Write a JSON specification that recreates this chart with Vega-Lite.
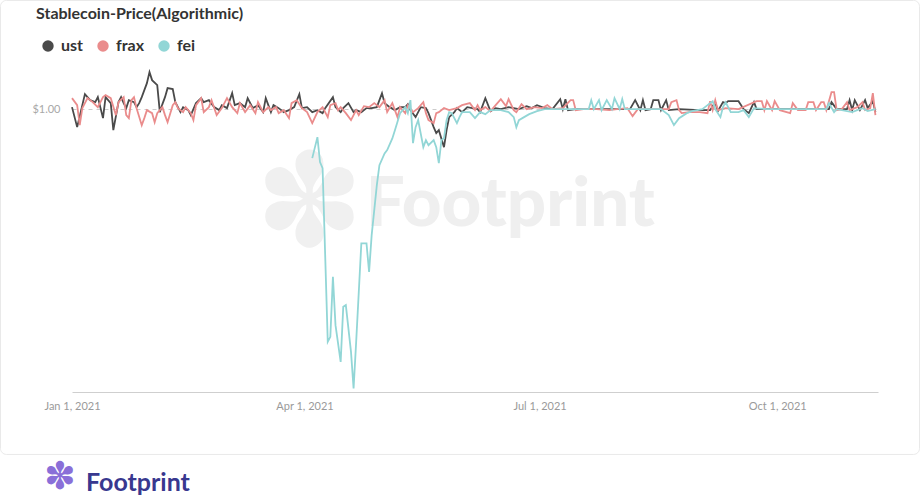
{
  "$schema": "https://vega.github.io/schema/vega-lite/v6.json",
  "width": 806,
  "height": 340,
  "autosize": {"type": "none"},
  "padding": {"left": 72, "top": 52, "right": 43, "bottom": 104},
  "background": "white",
  "config": {"font": "Lato", "view": {"stroke": null}},
  "title": {"text": "Stablecoin-Price(Algorithmic)", "anchor": "start", "frame": "group", "dx": -36, "offset": -22, "fontSize": 16, "fontWeight": "bold", "color": "#333333", "font": "Lato"},
  "layer": [
    {
      "data": {"values": [{"x1": "2020-12-04T07:40:00Z", "x2": "2021-11-25T01:40:00Z", "y1": 1.0761, "y2": 0.7583}]},
      "mark": {"type": "rect", "fill": null, "stroke": "#e9e9e9", "strokeWidth": 1, "cornerRadius": 6},
      "encoding": {
        "x": {"field": "x1", "type": "temporal"},
        "x2": {"field": "x2"},
        "y": {"field": "y1", "type": "quantitative"},
        "y2": {"field": "y2"}
      }
    },
    {
      "data": {"values": [{"date": "2021-04-24T18:00:00Z", "price": 0.9329, "label": "Footprint"}]},
      "mark": {"type": "text", "align": "left", "baseline": "middle", "fontSize": 69, "fontWeight": 900, "font": "Lato", "color": "#efefef"},
      "encoding": {
        "x": {"field": "date", "type": "temporal"},
        "y": {"field": "price", "type": "quantitative"},
        "text": {"field": "label"}
      }
    },
    {
      "data": {"values": [{"date": "2021-04-03T03:00:00Z", "price": 0.9315, "label": "✽"}]},
      "mark": {"type": "text", "align": "center", "baseline": "middle", "fontSize": 130, "color": "#f0f0f0"},
      "encoding": {
        "x": {"field": "date", "type": "temporal"},
        "y": {"field": "price", "type": "quantitative"},
        "text": {"field": "label"}
      }
    },
    {
      "data": {"values": [
{"date":"2021-01-01","coin":"ust","price":1.0014},{"date":"2021-01-03","coin":"ust","price":0.9874},{"date":"2021-01-05","coin":"ust","price":1.0028},{"date":"2021-01-06","coin":"ust","price":1.0105},{"date":"2021-01-08","coin":"ust","price":1.0063},{"date":"2021-01-10","coin":"ust","price":1.0049},{"date":"2021-01-11","coin":"ust","price":1.0084},{"date":"2021-01-13","coin":"ust","price":0.9937},{"date":"2021-01-14","coin":"ust","price":1.0084},{"date":"2021-01-16","coin":"ust","price":1.0042},{"date":"2021-01-17","coin":"ust","price":0.9853},{"date":"2021-01-19","coin":"ust","price":1.0049},{"date":"2021-01-20","coin":"ust","price":1.0084},{"date":"2021-01-21","coin":"ust","price":1.0042},{"date":"2021-01-22","coin":"ust","price":1.0007},{"date":"2021-01-23","coin":"ust","price":1.0063},{"date":"2021-01-25","coin":"ust","price":1.0049},{"date":"2021-01-26","coin":"ust","price":1.0014},{"date":"2021-01-27","coin":"ust","price":1.0042},{"date":"2021-01-28","coin":"ust","price":1.0084},{"date":"2021-01-30","coin":"ust","price":1.0182},{"date":"2021-01-31","coin":"ust","price":1.0259},{"date":"2021-02-01","coin":"ust","price":1.0203},{"date":"2021-02-03","coin":"ust","price":1.0168},{"date":"2021-02-04","coin":"ust","price":0.9979},{"date":"2021-02-05","coin":"ust","price":1.0035},{"date":"2021-02-06","coin":"ust","price":1.0084},{"date":"2021-02-07","coin":"ust","price":1.0147},{"date":"2021-02-09","coin":"ust","price":1.0140},{"date":"2021-02-10","coin":"ust","price":1.0049},{"date":"2021-02-12","coin":"ust","price":0.9979},{"date":"2021-02-13","coin":"ust","price":1.0014},{"date":"2021-02-15","coin":"ust","price":0.9993},{"date":"2021-02-16","coin":"ust","price":0.9958},{"date":"2021-02-18","coin":"ust","price":1.0042},{"date":"2021-02-20","coin":"ust","price":1.0077},{"date":"2021-02-21","coin":"ust","price":1.0049},{"date":"2021-02-23","coin":"ust","price":1.0063},{"date":"2021-02-25","coin":"ust","price":1.0014},{"date":"2021-02-27","coin":"ust","price":0.9993},{"date":"2021-02-28","coin":"ust","price":1.0028},{"date":"2021-03-02","coin":"ust","price":1.0007},{"date":"2021-03-04","coin":"ust","price":1.0112},{"date":"2021-03-05","coin":"ust","price":1.0028},{"date":"2021-03-07","coin":"ust","price":1.0042},{"date":"2021-03-09","coin":"ust","price":1.0014},{"date":"2021-03-10","coin":"ust","price":1.0077},{"date":"2021-03-12","coin":"ust","price":1.0007},{"date":"2021-03-14","coin":"ust","price":1.0028},{"date":"2021-03-16","coin":"ust","price":0.9979},{"date":"2021-03-17","coin":"ust","price":1.0077},{"date":"2021-03-19","coin":"ust","price":0.9979},{"date":"2021-03-20","coin":"ust","price":1.0028},{"date":"2021-03-22","coin":"ust","price":1.0007},{"date":"2021-03-24","coin":"ust","price":0.9979},{"date":"2021-03-26","coin":"ust","price":0.9993},{"date":"2021-03-28","coin":"ust","price":1.0014},{"date":"2021-03-30","coin":"ust","price":1.0105},{"date":"2021-03-31","coin":"ust","price":1.0007},{"date":"2021-04-02","coin":"ust","price":1.0014},{"date":"2021-04-04","coin":"ust","price":0.9979},{"date":"2021-04-06","coin":"ust","price":0.9993},{"date":"2021-04-08","coin":"ust","price":0.9972},{"date":"2021-04-09","coin":"ust","price":1.0007},{"date":"2021-04-12","coin":"ust","price":1.0084},{"date":"2021-04-13","coin":"ust","price":1.0014},{"date":"2021-04-15","coin":"ust","price":0.9979},{"date":"2021-04-16","coin":"ust","price":1.0007},{"date":"2021-04-18","coin":"ust","price":1.0042},{"date":"2021-04-20","coin":"ust","price":0.9979},{"date":"2021-04-21","coin":"ust","price":0.9993},{"date":"2021-04-23","coin":"ust","price":0.9979},{"date":"2021-04-25","coin":"ust","price":1.0007},{"date":"2021-04-27","coin":"ust","price":1.0007},{"date":"2021-04-29","coin":"ust","price":1.0014},{"date":"2021-05-01","coin":"ust","price":1.0112},{"date":"2021-05-02","coin":"ust","price":1.0042},{"date":"2021-05-04","coin":"ust","price":1.0014},{"date":"2021-05-06","coin":"ust","price":0.9993},{"date":"2021-05-08","coin":"ust","price":1.0014},{"date":"2021-05-10","coin":"ust","price":1.0014},{"date":"2021-05-11","coin":"ust","price":1.0035},{"date":"2021-05-12","coin":"ust","price":0.9993},{"date":"2021-05-14","coin":"ust","price":0.9944},{"date":"2021-05-16","coin":"ust","price":1.0014},{"date":"2021-05-18","coin":"ust","price":1.0007},{"date":"2021-05-19","coin":"ust","price":0.9972},{"date":"2021-05-21","coin":"ust","price":0.9874},{"date":"2021-05-22","coin":"ust","price":0.9832},{"date":"2021-05-23","coin":"ust","price":0.9853},{"date":"2021-05-25","coin":"ust","price":0.9734},{"date":"2021-05-26","coin":"ust","price":0.9853},{"date":"2021-05-27","coin":"ust","price":0.9944},{"date":"2021-05-29","coin":"ust","price":0.9979},{"date":"2021-05-30","coin":"ust","price":1.0007},{"date":"2021-06-01","coin":"ust","price":0.9979},{"date":"2021-06-03","coin":"ust","price":1.0014},{"date":"2021-06-05","coin":"ust","price":1.0007},{"date":"2021-06-07","coin":"ust","price":1.0000},{"date":"2021-06-08","coin":"ust","price":0.9979},{"date":"2021-06-10","coin":"ust","price":1.0077},{"date":"2021-06-12","coin":"ust","price":0.9986},{"date":"2021-06-14","coin":"ust","price":1.0007},{"date":"2021-06-16","coin":"ust","price":1.0000},{"date":"2021-06-19","coin":"ust","price":1.0014},{"date":"2021-06-23","coin":"ust","price":1.0000},{"date":"2021-06-26","coin":"ust","price":1.0021},{"date":"2021-06-28","coin":"ust","price":1.0007},{"date":"2021-06-30","coin":"ust","price":1.0028},{"date":"2021-07-03","coin":"ust","price":1.0007},{"date":"2021-07-06","coin":"ust","price":1.0000},{"date":"2021-07-09","coin":"ust","price":1.0070},{"date":"2021-07-10","coin":"ust","price":1.0000},{"date":"2021-07-11","coin":"ust","price":1.0070},{"date":"2021-07-12","coin":"ust","price":0.9993},{"date":"2021-07-15","coin":"ust","price":1.0000},{"date":"2021-07-24","coin":"ust","price":1.0000},{"date":"2021-08-05","coin":"ust","price":1.0000},{"date":"2021-08-07","coin":"ust","price":1.0063},{"date":"2021-08-09","coin":"ust","price":0.9993},{"date":"2021-08-10","coin":"ust","price":1.0063},{"date":"2021-08-11","coin":"ust","price":0.9993},{"date":"2021-08-13","coin":"ust","price":1.0000},{"date":"2021-08-14","coin":"ust","price":1.0063},{"date":"2021-08-16","coin":"ust","price":1.0063},{"date":"2021-08-17","coin":"ust","price":0.9993},{"date":"2021-08-19","coin":"ust","price":1.0063},{"date":"2021-08-20","coin":"ust","price":0.9993},{"date":"2021-08-24","coin":"ust","price":1.0000},{"date":"2021-09-01","coin":"ust","price":0.9993},{"date":"2021-09-05","coin":"ust","price":0.9993},{"date":"2021-09-07","coin":"ust","price":1.0049},{"date":"2021-09-08","coin":"ust","price":0.9986},{"date":"2021-09-10","coin":"ust","price":1.0049},{"date":"2021-09-11","coin":"ust","price":1.0042},{"date":"2021-09-12","coin":"ust","price":1.0056},{"date":"2021-09-16","coin":"ust","price":1.0056},{"date":"2021-09-18","coin":"ust","price":1.0000},{"date":"2021-09-20","coin":"ust","price":0.9972},{"date":"2021-09-22","coin":"ust","price":1.0049},{"date":"2021-09-23","coin":"ust","price":1.0000},{"date":"2021-10-02","coin":"ust","price":1.0000},{"date":"2021-10-12","coin":"ust","price":1.0000},{"date":"2021-10-21","coin":"ust","price":1.0000},{"date":"2021-10-22","coin":"ust","price":1.0049},{"date":"2021-10-24","coin":"ust","price":1.0000},{"date":"2021-10-28","coin":"ust","price":1.0000},{"date":"2021-10-29","coin":"ust","price":1.0063},{"date":"2021-10-30","coin":"ust","price":0.9993},{"date":"2021-10-31","coin":"ust","price":1.0063},{"date":"2021-11-02","coin":"ust","price":0.9993},{"date":"2021-11-04","coin":"ust","price":1.0063},{"date":"2021-11-05","coin":"ust","price":1.0007},{"date":"2021-11-07","coin":"ust","price":1.0056},{"date":"2021-11-08","coin":"ust","price":0.9979},
{"date":"2021-01-01","coin":"frax","price":1.0077},{"date":"2021-01-03","coin":"frax","price":1.0028},{"date":"2021-01-04","coin":"frax","price":0.9888},{"date":"2021-01-05","coin":"frax","price":1.0007},{"date":"2021-01-07","coin":"frax","price":1.0077},{"date":"2021-01-09","coin":"frax","price":1.0049},{"date":"2021-01-11","coin":"frax","price":1.0014},{"date":"2021-01-13","coin":"frax","price":1.0084},{"date":"2021-01-14","coin":"frax","price":1.0098},{"date":"2021-01-16","coin":"frax","price":1.0077},{"date":"2021-01-18","coin":"frax","price":0.9958},{"date":"2021-01-19","coin":"frax","price":1.0049},{"date":"2021-01-21","coin":"frax","price":1.0084},{"date":"2021-01-22","coin":"frax","price":0.9958},{"date":"2021-01-23","coin":"frax","price":0.9937},{"date":"2021-01-24","coin":"frax","price":1.0063},{"date":"2021-01-25","coin":"frax","price":1.0084},{"date":"2021-01-26","coin":"frax","price":1.0007},{"date":"2021-01-28","coin":"frax","price":0.9888},{"date":"2021-01-29","coin":"frax","price":0.9937},{"date":"2021-01-30","coin":"frax","price":0.9993},{"date":"2021-02-01","coin":"frax","price":0.9972},{"date":"2021-02-02","coin":"frax","price":0.9909},{"date":"2021-02-03","coin":"frax","price":0.9972},{"date":"2021-02-05","coin":"frax","price":1.0014},{"date":"2021-02-06","coin":"frax","price":0.9958},{"date":"2021-02-07","coin":"frax","price":0.9909},{"date":"2021-02-09","coin":"frax","price":1.0028},{"date":"2021-02-10","coin":"frax","price":1.0049},{"date":"2021-02-11","coin":"frax","price":1.0007},{"date":"2021-02-13","coin":"frax","price":0.9979},{"date":"2021-02-14","coin":"frax","price":1.0014},{"date":"2021-02-16","coin":"frax","price":0.9972},{"date":"2021-02-17","coin":"frax","price":0.9923},{"date":"2021-02-18","coin":"frax","price":1.0028},{"date":"2021-02-20","coin":"frax","price":1.0077},{"date":"2021-02-21","coin":"frax","price":0.9979},{"date":"2021-02-23","coin":"frax","price":1.0014},{"date":"2021-02-24","coin":"frax","price":1.0063},{"date":"2021-02-26","coin":"frax","price":0.9958},{"date":"2021-02-28","coin":"frax","price":1.0007},{"date":"2021-03-02","coin":"frax","price":1.0077},{"date":"2021-03-04","coin":"frax","price":1.0014},{"date":"2021-03-06","coin":"frax","price":0.9972},{"date":"2021-03-07","coin":"frax","price":1.0042},{"date":"2021-03-09","coin":"frax","price":0.9979},{"date":"2021-03-11","coin":"frax","price":1.0028},{"date":"2021-03-13","coin":"frax","price":0.9972},{"date":"2021-03-14","coin":"frax","price":1.0049},{"date":"2021-03-16","coin":"frax","price":0.9979},{"date":"2021-03-18","coin":"frax","price":1.0014},{"date":"2021-03-19","coin":"frax","price":0.9993},{"date":"2021-03-21","coin":"frax","price":1.0014},{"date":"2021-03-22","coin":"frax","price":0.9972},{"date":"2021-03-24","coin":"frax","price":0.9993},{"date":"2021-03-26","coin":"frax","price":0.9937},{"date":"2021-03-27","coin":"frax","price":1.0042},{"date":"2021-03-29","coin":"frax","price":1.0063},{"date":"2021-03-31","coin":"frax","price":1.0007},{"date":"2021-04-02","coin":"frax","price":0.9979},{"date":"2021-04-04","coin":"frax","price":0.9902},{"date":"2021-04-06","coin":"frax","price":0.9979},{"date":"2021-04-08","coin":"frax","price":1.0014},{"date":"2021-04-10","coin":"frax","price":0.9944},{"date":"2021-04-11","coin":"frax","price":1.0028},{"date":"2021-04-13","coin":"frax","price":1.0042},{"date":"2021-04-14","coin":"frax","price":0.9993},{"date":"2021-04-15","coin":"frax","price":1.0014},{"date":"2021-04-17","coin":"frax","price":0.9972},{"date":"2021-04-19","coin":"frax","price":0.9923},{"date":"2021-04-21","coin":"frax","price":0.9993},{"date":"2021-04-22","coin":"frax","price":0.9958},{"date":"2021-04-24","coin":"frax","price":1.0021},{"date":"2021-04-26","coin":"frax","price":1.0014},{"date":"2021-04-28","coin":"frax","price":1.0042},{"date":"2021-04-30","coin":"frax","price":1.0014},{"date":"2021-05-02","coin":"frax","price":1.0063},{"date":"2021-05-03","coin":"frax","price":0.9979},{"date":"2021-05-05","coin":"frax","price":1.0042},{"date":"2021-05-07","coin":"frax","price":0.9944},{"date":"2021-05-08","coin":"frax","price":1.0014},{"date":"2021-05-10","coin":"frax","price":0.9972},{"date":"2021-05-11","coin":"frax","price":1.0028},{"date":"2021-05-13","coin":"frax","price":0.9979},{"date":"2021-05-15","coin":"frax","price":1.0007},{"date":"2021-05-17","coin":"frax","price":1.0049},{"date":"2021-05-18","coin":"frax","price":0.9972},{"date":"2021-05-19","coin":"frax","price":0.9923},{"date":"2021-05-21","coin":"frax","price":0.9902},{"date":"2021-05-22","coin":"frax","price":0.9972},{"date":"2021-05-23","coin":"frax","price":0.9979},{"date":"2021-05-25","coin":"frax","price":1.0007},{"date":"2021-05-27","coin":"frax","price":0.9993},{"date":"2021-05-30","coin":"frax","price":1.0007},{"date":"2021-06-01","coin":"frax","price":1.0028},{"date":"2021-06-04","coin":"frax","price":1.0042},{"date":"2021-06-06","coin":"frax","price":0.9993},{"date":"2021-06-07","coin":"frax","price":1.0028},{"date":"2021-06-08","coin":"frax","price":0.9993},{"date":"2021-06-10","coin":"frax","price":1.0014},{"date":"2021-06-12","coin":"frax","price":0.9986},{"date":"2021-06-14","coin":"frax","price":1.0028},{"date":"2021-06-16","coin":"frax","price":1.0070},{"date":"2021-06-18","coin":"frax","price":1.0021},{"date":"2021-06-19","coin":"frax","price":1.0070},{"date":"2021-06-21","coin":"frax","price":0.9993},{"date":"2021-06-22","coin":"frax","price":0.9979},{"date":"2021-06-24","coin":"frax","price":1.0035},{"date":"2021-06-26","coin":"frax","price":1.0000},{"date":"2021-06-29","coin":"frax","price":1.0014},{"date":"2021-07-02","coin":"frax","price":1.0007},{"date":"2021-07-04","coin":"frax","price":1.0028},{"date":"2021-07-06","coin":"frax","price":1.0000},{"date":"2021-07-10","coin":"frax","price":1.0007},{"date":"2021-07-13","coin":"frax","price":1.0063},{"date":"2021-07-14","coin":"frax","price":1.0063},{"date":"2021-07-15","coin":"frax","price":0.9993},{"date":"2021-07-18","coin":"frax","price":1.0000},{"date":"2021-07-23","coin":"frax","price":1.0000},{"date":"2021-07-28","coin":"frax","price":0.9993},{"date":"2021-07-31","coin":"frax","price":1.0000},{"date":"2021-08-04","coin":"frax","price":1.0007},{"date":"2021-08-06","coin":"frax","price":0.9951},{"date":"2021-08-08","coin":"frax","price":1.0000},{"date":"2021-08-12","coin":"frax","price":1.0000},{"date":"2021-08-20","coin":"frax","price":1.0000},{"date":"2021-08-21","coin":"frax","price":1.0049},{"date":"2021-08-23","coin":"frax","price":1.0063},{"date":"2021-08-24","coin":"frax","price":0.9993},{"date":"2021-08-25","coin":"frax","price":0.9972},{"date":"2021-08-28","coin":"frax","price":0.9979},{"date":"2021-09-01","coin":"frax","price":0.9979},{"date":"2021-09-04","coin":"frax","price":0.9972},{"date":"2021-09-05","coin":"frax","price":1.0056},{"date":"2021-09-06","coin":"frax","price":0.9993},{"date":"2021-09-07","coin":"frax","price":1.0063},{"date":"2021-09-08","coin":"frax","price":0.9993},{"date":"2021-09-11","coin":"frax","price":1.0007},{"date":"2021-09-16","coin":"frax","price":1.0000},{"date":"2021-09-23","coin":"frax","price":1.0056},{"date":"2021-09-25","coin":"frax","price":1.0056},{"date":"2021-09-26","coin":"frax","price":0.9993},{"date":"2021-09-27","coin":"frax","price":1.0056},{"date":"2021-09-29","coin":"frax","price":0.9993},{"date":"2021-09-30","coin":"frax","price":1.0056},{"date":"2021-10-02","coin":"frax","price":0.9993},{"date":"2021-10-06","coin":"frax","price":0.9972},{"date":"2021-10-07","coin":"frax","price":1.0042},{"date":"2021-10-09","coin":"frax","price":0.9993},{"date":"2021-10-12","coin":"frax","price":0.9993},{"date":"2021-10-13","coin":"frax","price":1.0049},{"date":"2021-10-15","coin":"frax","price":1.0049},{"date":"2021-10-16","coin":"frax","price":0.9993},{"date":"2021-10-18","coin":"frax","price":1.0049},{"date":"2021-10-19","coin":"frax","price":1.0049},{"date":"2021-10-20","coin":"frax","price":0.9993},{"date":"2021-10-22","coin":"frax","price":1.0119},{"date":"2021-10-23","coin":"frax","price":1.0119},{"date":"2021-10-24","coin":"frax","price":0.9993},{"date":"2021-10-26","coin":"frax","price":1.0000},{"date":"2021-10-28","coin":"frax","price":1.0049},{"date":"2021-10-29","coin":"frax","price":0.9993},{"date":"2021-11-01","coin":"frax","price":1.0014},{"date":"2021-11-03","coin":"frax","price":1.0049},{"date":"2021-11-04","coin":"frax","price":0.9993},{"date":"2021-11-06","coin":"frax","price":1.0007},{"date":"2021-11-07","coin":"frax","price":1.0112},{"date":"2021-11-08","coin":"frax","price":0.9958},
{"date":"2021-04-04","coin":"fei","price":0.9657},{"date":"2021-04-06","coin":"fei","price":0.9804},{"date":"2021-04-07","coin":"fei","price":0.9629},{"date":"2021-04-08","coin":"fei","price":0.9587},{"date":"2021-04-10","coin":"fei","price":0.8371},{"date":"2021-04-11","coin":"fei","price":0.8406},{"date":"2021-04-12","coin":"fei","price":0.8826},{"date":"2021-04-13","coin":"fei","price":0.8488},{"date":"2021-04-15","coin":"fei","price":0.8231},{"date":"2021-04-16","coin":"fei","price":0.8616},{"date":"2021-04-17","coin":"fei","price":0.8628},{"date":"2021-04-19","coin":"fei","price":0.8301},{"date":"2021-04-20","coin":"fei","price":0.8045},{"date":"2021-04-21","coin":"fei","price":0.8371},{"date":"2021-04-23","coin":"fei","price":0.9060},{"date":"2021-04-25","coin":"fei","price":0.9060},{"date":"2021-04-26","coin":"fei","price":0.8861},{"date":"2021-04-27","coin":"fei","price":0.9118},{"date":"2021-04-29","coin":"fei","price":0.9468},{"date":"2021-04-30","coin":"fei","price":0.9608},{"date":"2021-05-02","coin":"fei","price":0.9690},{"date":"2021-05-03","coin":"fei","price":0.9713},{"date":"2021-05-05","coin":"fei","price":0.9795},{"date":"2021-05-06","coin":"fei","price":0.9853},{"date":"2021-05-07","coin":"fei","price":0.9911},{"date":"2021-05-08","coin":"fei","price":0.9972},{"date":"2021-05-10","coin":"fei","price":1.0014},{"date":"2021-05-11","coin":"fei","price":0.9972},{"date":"2021-05-12","coin":"fei","price":1.0063},{"date":"2021-05-13","coin":"fei","price":0.9762},{"date":"2021-05-14","coin":"fei","price":0.9874},{"date":"2021-05-15","coin":"fei","price":0.9923},{"date":"2021-05-17","coin":"fei","price":0.9734},{"date":"2021-05-18","coin":"fei","price":0.9783},{"date":"2021-05-19","coin":"fei","price":0.9748},{"date":"2021-05-21","coin":"fei","price":0.9783},{"date":"2021-05-22","coin":"fei","price":0.9734},{"date":"2021-05-23","coin":"fei","price":0.9622},{"date":"2021-05-24","coin":"fei","price":0.9783},{"date":"2021-05-25","coin":"fei","price":0.9797},{"date":"2021-05-26","coin":"fei","price":0.9923},{"date":"2021-05-27","coin":"fei","price":0.9979},{"date":"2021-05-28","coin":"fei","price":0.9972},{"date":"2021-05-30","coin":"fei","price":0.9902},{"date":"2021-05-31","coin":"fei","price":0.9944},{"date":"2021-06-01","coin":"fei","price":0.9979},{"date":"2021-06-04","coin":"fei","price":0.9979},{"date":"2021-06-06","coin":"fei","price":0.9937},{"date":"2021-06-08","coin":"fei","price":0.9979},{"date":"2021-06-10","coin":"fei","price":0.9965},{"date":"2021-06-12","coin":"fei","price":0.9993},{"date":"2021-06-16","coin":"fei","price":0.9993},{"date":"2021-06-19","coin":"fei","price":0.9979},{"date":"2021-06-21","coin":"fei","price":0.9944},{"date":"2021-06-22","coin":"fei","price":0.9874},{"date":"2021-06-23","coin":"fei","price":0.9923},{"date":"2021-06-25","coin":"fei","price":0.9944},{"date":"2021-06-27","coin":"fei","price":0.9965},{"date":"2021-06-30","coin":"fei","price":0.9986},{"date":"2021-07-03","coin":"fei","price":1.0000},{"date":"2021-07-15","coin":"fei","price":1.0000},{"date":"2021-07-20","coin":"fei","price":1.0000},{"date":"2021-07-21","coin":"fei","price":1.0063},{"date":"2021-07-22","coin":"fei","price":1.0000},{"date":"2021-07-24","coin":"fei","price":1.0063},{"date":"2021-07-25","coin":"fei","price":0.9993},{"date":"2021-07-27","coin":"fei","price":1.0063},{"date":"2021-07-29","coin":"fei","price":1.0000},{"date":"2021-07-30","coin":"fei","price":1.0077},{"date":"2021-08-01","coin":"fei","price":1.0000},{"date":"2021-08-02","coin":"fei","price":1.0070},{"date":"2021-08-03","coin":"fei","price":1.0000},{"date":"2021-08-17","coin":"fei","price":1.0000},{"date":"2021-08-20","coin":"fei","price":0.9958},{"date":"2021-08-22","coin":"fei","price":0.9888},{"date":"2021-08-24","coin":"fei","price":0.9937},{"date":"2021-08-27","coin":"fei","price":0.9972},{"date":"2021-08-29","coin":"fei","price":0.9986},{"date":"2021-09-02","coin":"fei","price":1.0000},{"date":"2021-09-06","coin":"fei","price":1.0056},{"date":"2021-09-07","coin":"fei","price":1.0000},{"date":"2021-09-09","coin":"fei","price":0.9944},{"date":"2021-09-10","coin":"fei","price":1.0014},{"date":"2021-09-11","coin":"fei","price":1.0049},{"date":"2021-09-13","coin":"fei","price":0.9979},{"date":"2021-09-16","coin":"fei","price":0.9979},{"date":"2021-09-18","coin":"fei","price":0.9993},{"date":"2021-09-20","coin":"fei","price":0.9944},{"date":"2021-09-22","coin":"fei","price":1.0007},{"date":"2021-09-27","coin":"fei","price":1.0000},{"date":"2021-10-08","coin":"fei","price":1.0000},{"date":"2021-10-20","coin":"fei","price":1.0000},{"date":"2021-10-21","coin":"fei","price":1.0042},{"date":"2021-10-23","coin":"fei","price":0.9979},{"date":"2021-10-24","coin":"fei","price":1.0000},{"date":"2021-10-30","coin":"fei","price":0.9979},{"date":"2021-11-03","coin":"fei","price":1.0007},{"date":"2021-11-05","coin":"fei","price":0.9986},{"date":"2021-11-08","coin":"fei","price":1.0000}
      ]},
      "mark": {"type": "line", "strokeWidth": 1.8, "interpolate": "linear"},
      "encoding": {
        "x": {
          "field": "date", "type": "temporal",
          "scale": {"type": "utc", "domain": [{"year": 2021, "month": 1, "date": 1, "utc": true}, {"year": 2021, "month": 11, "date": 9, "utc": true}]},
          "axis": {
            "title": null,
            "values": [{"year": 2021, "month": 1, "date": 1, "utc": true}, {"year": 2021, "month": 4, "date": 1, "utc": true}, {"year": 2021, "month": 7, "date": 1, "utc": true}, {"year": 2021, "month": 10, "date": 1, "utc": true}],
            "format": "%b %-d, %Y",
            "grid": false, "ticks": false, "domain": true, "domainColor": "#cfcfcf", "domainWidth": 1,
            "labelColor": "#9a9a9a", "labelFontSize": 11, "labelFont": "Lato", "labelPadding": 8, "labelFlush": false
          }
        },
        "y": {
          "field": "price", "type": "quantitative",
          "scale": {"domain": [0.802, 1.04], "zero": false, "nice": false},
          "axis": {
            "title": null, "values": [1], "format": "$.2f",
            "grid": true, "gridDash": [4, 4], "gridColor": "#cccccc", "domain": false, "ticks": false,
            "labelColor": "#a8a8a8", "labelFontSize": 11, "labelFont": "Lato", "labelPadding": 12
          }
        },
        "color": {
          "field": "coin", "type": "nominal",
          "scale": {"domain": ["ust", "frax", "fei"], "range": ["#4a4a4a", "#ea8c8c", "#92d6d6"]},
          "legend": {
            "title": null, "orient": "none", "direction": "horizontal", "legendX": -32, "legendY": -14,
            "symbolType": "circle", "symbolSize": 130, "symbolOpacity": 1,
            "labelFontSize": 16, "labelFontWeight": "bold", "labelColor": "#333333", "labelFont": "Lato",
            "labelOffset": 5, "columnPadding": 11,
            "encode": {"symbols": {"update": {"fill": {"scale": "color", "field": "value"}, "strokeWidth": {"value": 0}, "opacity": {"value": 1}}}}
          }
        }
      }
    },
    {
      "data": {"values": [{"date": "2021-01-06T10:00:00Z", "price": 0.7383, "label": "Footprint"}]},
      "mark": {"type": "text", "align": "left", "baseline": "middle", "fontSize": 25, "fontWeight": "bold", "font": "Lato", "color": "#38388f"},
      "encoding": {
        "x": {"field": "date", "type": "temporal"},
        "y": {"field": "price", "type": "quantitative"},
        "text": {"field": "label"}
      }
    },
    {
      "data": {"values": [{"date": "2020-12-27T08:00:00Z", "price": 0.7418, "label": "✽"}]},
      "mark": {"type": "text", "align": "center", "baseline": "middle", "fontSize": 38, "color": "#8a6fd8"},
      "encoding": {
        "x": {"field": "date", "type": "temporal"},
        "y": {"field": "price", "type": "quantitative"},
        "text": {"field": "label"}
      }
    }
  ]
}
